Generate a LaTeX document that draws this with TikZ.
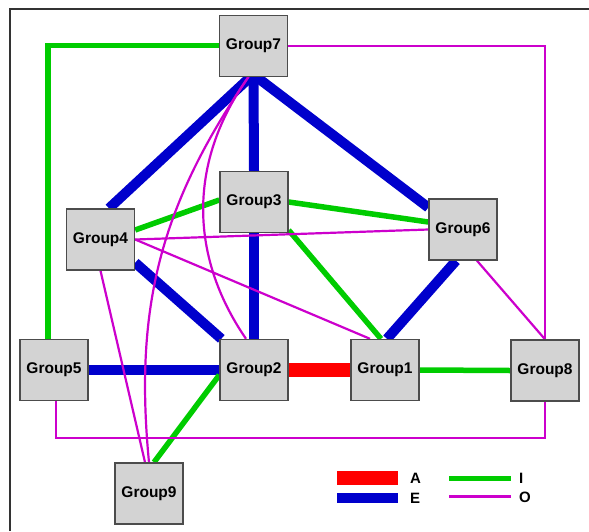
\documentclass[tikz,border=0pt]{standalone}
\usepackage{fontspec}
\setmainfont{Liberation Sans}
\usetikzlibrary{backgrounds}
\definecolor{colA}{RGB}{255,0,0}
\definecolor{colE}{RGB}{0,0,204}
\definecolor{colI}{RGB}{0,204,0}
\definecolor{colO}{RGB}{204,0,204}
\definecolor{boxgray}{RGB}{211,211,211}

\begin{document}
\begin{tikzpicture}[x=1pt,y=-1pt,
  group/.style={draw=black!70,line width=1.4pt,fill=boxgray,minimum width=68pt,minimum height=61pt,inner sep=0pt,font=\fontsize{15.5}{16}\selectfont\bfseries},
  linkA/.style={colA,line width=14.5pt},
  linkE/.style={colE,line width=10pt},
  linkI/.style={colI,line width=5.5pt},
  linkO/.style={colO,line width=2.2pt},
  legtext/.style={anchor=west,inner sep=0pt,font=\fontsize{15}{15}\selectfont\bfseries}]
  \useasboundingbox (0,0) rectangle (589,531);
  \draw[black!80,line width=1.2pt] (10,531) -- (10,9) -- (589,9);
  % the groups
  \node[group] (g7) at (253.5,45.7) {Group7};
  \node[group] (g3) at (254,202) {Group3};
  \node[group] (g4) at (100.5,239.5) {Group4};
  \node[group] (g6) at (463,229.5) {Group6};
  \node[group] (g5) at (54,370) {Group5};
  \node[group] (g2) at (254,370) {Group2};
  \node[group] (g1) at (385,370) {Group1};
  \node[group] (g8) at (545,370.5) {Group8};
  \node[group] (g9) at (149,493.5) {Group9};
  \begin{scope}[on background layer]
   % E links
   \draw[linkE] ([xshift=-3]g7.south) -- ([xshift=8.5]g4.north);
   \draw[linkE] (g7.south) -- (g3.north);
   \draw[linkE] ([xshift=3]g7.south) -- ([yshift=22]g6.west);
   \draw[linkE] (g3.south) -- (g2.north);
   \draw[linkE] ([yshift=8]g4.south east) -- ([xshift=2]g2.north west);
   \draw[linkE] (g5.east) -- (g2.west);
   \draw[linkE] ([xshift=-7]g6.south) -- ([xshift=2]g1.north);
   % A link
   \draw[linkA] (g2.east) -- (g1.west);
   % I links
   \draw[linkI] (g7.west) -| ([xshift=-6]g5.north);
   \draw[linkI] ([yshift=9.5]g4.east) -- ([yshift=2]g3.west);
   \draw[linkI] (g3.east) -- ([yshift=7.5]g6.west);
   \draw[linkI] ([yshift=3]g3.south east) -- ([xshift=-4]g1.north);
   \draw[linkI] (g1.east) -- (g8.west);
   \draw[linkI] ([yshift=-5]g2.west) -- ([xshift=5]g9.north);
   % O links
   \draw[linkO] (g7.east) -| (g8.north);
   \draw[linkO] ([xshift=2]g5.south) -- ++(0,37) -| (g8.south);
   \draw[linkO] (g4.east) -- (g6.west);
   \draw[linkO] (g4.east) -- ([xshift=-15]g1.north);
   \draw[linkO] (g4.south) -- ([xshift=-4]g9.north);
   \draw[linkO] ([xshift=14]g6.south) -- (g8.north);
   \draw[linkO] ([xshift=-5]g7.south) to[bend right=20] (g9.north);
   \draw[linkO] ([xshift=-5]g7.south) to[bend right=35] ([xshift=-8]g2.north);
  \end{scope}
  % legend
  \draw[linkA] (337,478) -- (398,478);
  \draw[linkE] (337,497.5) -- (398,497.5);
  \draw[linkI] (449,478.5) -- (511,478.5);
  \draw[linkO] (449,496.5) -- (511,496.5);
  \node[legtext] (labA) at (410,478) {A};
  \node[legtext] (labE) at (410,498) {E};
  \node[legtext] (labI) at (519,478) {I};
  \node[legtext] (labO) at (519,497) {O};
\end{tikzpicture}
\end{document}
